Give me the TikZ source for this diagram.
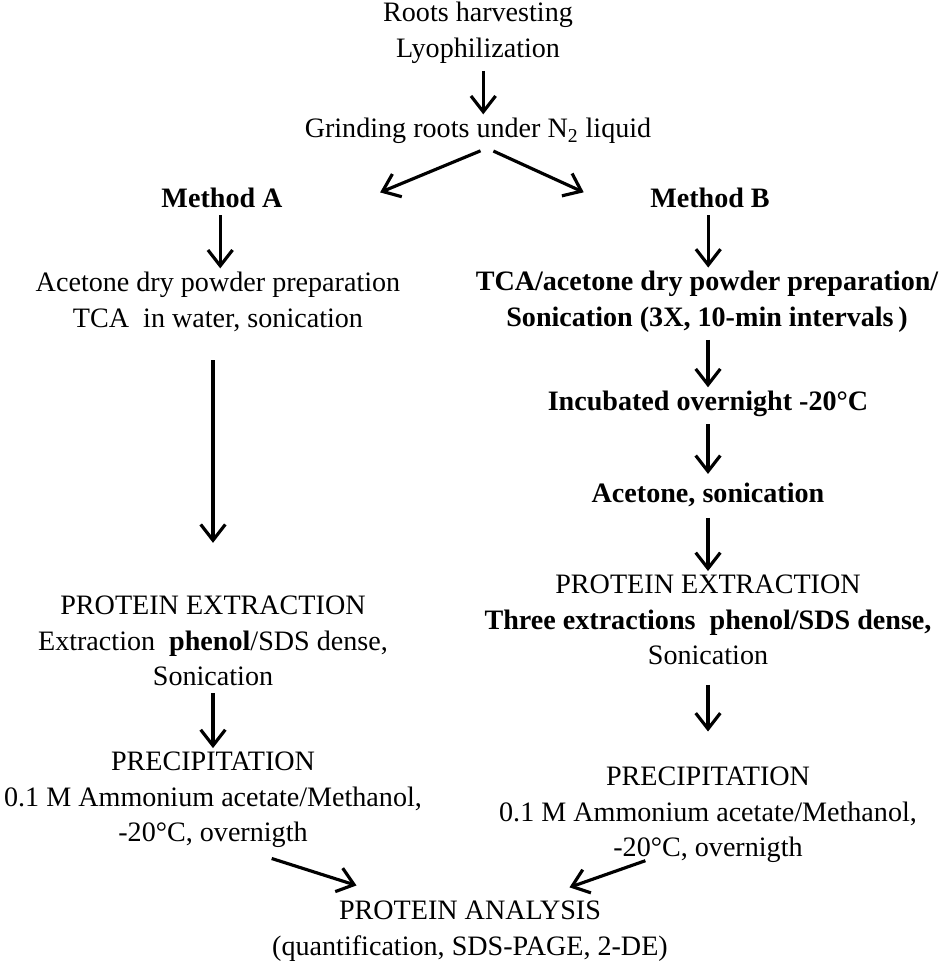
\documentclass[tikz,border=0pt]{standalone}
\usepackage{fontspec}
\setmainfont{Liberation Serif}
\usetikzlibrary{arrows.meta, calc}

\begin{document}
\begin{tikzpicture}[
  x=0.02cm, y=-0.02cm,
  txt/.style={align=center, inner sep=0pt, font=\fontsize{16}{20.3}\selectfont},
  txtb/.style={txt, font=\fontsize{16}{20.3}\selectfont\bfseries},
  arrow/.style={-{Straight Barb[length=9pt,width=14pt]}, line width=1.8pt,
                shorten >=2pt, shorten <=4pt}
]
\useasboundingbox (0,0) rectangle (940,962);
% top
\node[txt] (roots) at (478,33) {Roots harvesting\\Lyophilization};
\node[txt] (grind) at (478,131) {Grinding roots under N\textsubscript{2} liquid};
\node[txtb] (mA) at (222,198) {Method A};
\node[txtb] (mB) at (710,198) {Method B};
% method A
\node[txt] (acA) at (218,302) {Acetone dry powder preparation\\TCA\ \ in water, sonication};
\node[txt] (extA) at (213,641) {PROTEIN EXTRACTION\\Extraction\ \ \textbf{phenol}/SDS dense,\\Sonication};
\node[txt] (precA) at (213,800) {PRECIPITATION\\0.1 M Ammonium acetate/Methanol,\\-20°C, overnigth};
% method B
\node[txtb] (tcaB) at (707,302) {TCA/acetone dry powder preparation/\\Sonication (3X, 10-min intervals\,)};
\node[txtb] (incB) at (708,404) {Incubated overnight -20°C};
\node[txtb] (acB) at (708,495) {Acetone, sonication};
\node[txt] (extB) at (708,620) {PROTEIN EXTRACTION\\\textbf{Three extractions\ \ phenol/SDS dense,}\\Sonication};
\node[txt] (precB) at (708,815) {PRECIPITATION\\0.1 M Ammonium acetate/Methanol,\\-20°C, overnigth};
% bottom
\node[txt] (anal) at (470,931) {PROTEIN ANALYSIS\\(quantification, SDS-PAGE, 2-DE)};

\draw[arrow] ([xshift=3pt]roots.south) -- ([xshift=3pt]grind.north);
\draw[arrow] ($(grind.south)+(9,4)$) -- ($(mA.north east)+(94,6)$);
\draw[arrow] ($(grind.south)+(9,4)$) -- ($(mB.north west)+(-63,6)$);
\draw[arrow] ([xshift=-1pt]mA.south) -- ([xshift=-1pt]mA.south |- acA.north);
\draw[arrow, shorten <=16pt, shorten >=30pt] (acA.south -| extA.north) -- (extA.north);
\draw[arrow] (extA.south) -- (precA.north);
\draw[arrow] ([xshift=-1pt]mB.south) -- ([xshift=-1pt]mB.south |- tcaB.north);
\draw[arrow] (tcaB.south -| incB.north) -- (incB.north);
\draw[arrow, shorten >=5pt] (incB.south) -- (acB.north);
\draw[arrow, shorten <=6pt] (acB.south) -- (acB.south |- extB.north);
\draw[arrow, shorten <=11pt, shorten >=20pt] (extB.south) -- (extB.south |- precB.north);
\draw[arrow] ($(precA.south)+(52,8)$) -- ($(anal.north west)+(88,-14)$);
\draw[arrow] ($(precB.south)+(-56,-5)$) -- ($(anal.north east)+(-102,-12)$);
\end{tikzpicture}
\end{document}
